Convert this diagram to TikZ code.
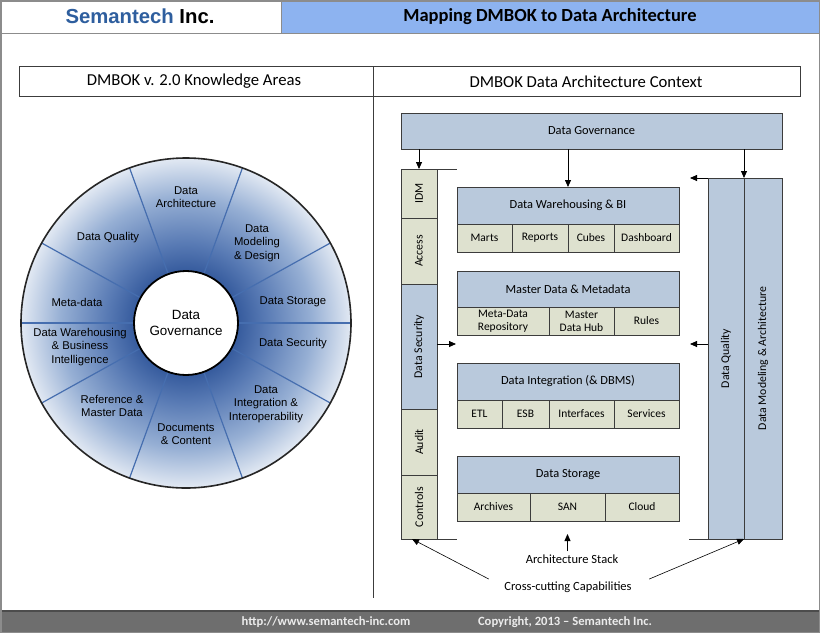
\documentclass[tikz,border=0pt]{standalone}
\usepackage{fontspec}
\usepackage{graphicx}
\setmainfont{Carlito}
\newfontfamily\arialf{Liberation Sans}
\usetikzlibrary{arrows.meta}
\definecolor{hdrblue}{RGB}{141,179,240}
\definecolor{semblue}{RGB}{46,94,158}
\definecolor{boxblue}{RGB}{185,201,220}
\definecolor{boxbeige}{RGB}{222,225,207}
\definecolor{spokec}{RGB}{70,110,175}
\definecolor{ringdark}{RGB}{55,92,158}
\definecolor{ringdm}{RGB}{88,122,180}
\definecolor{ringmid}{RGB}{150,175,212}
\definecolor{ringlight}{RGB}{226,233,243}
\definecolor{footgray}{RGB}{110,110,110}
\definecolor{framegray}{RGB}{140,140,140}
\definecolor{edgec}{RGB}{60,60,60}
\pgfdeclareradialshading{ringshade}{\pgfpoint{0bp}{0bp}}{color(0bp)=(ringdark); color(8bp)=(ringdark); color(12bp)=(ringdm); color(19bp)=(ringmid); color(25bp)=(ringlight); color(50bp)=(ringlight)}
\begin{document}
\begin{tikzpicture}[x=1pt,y=-1pt,
  hbox/.style={draw=edgec, fill=boxblue, line width=0.8pt, inner sep=1pt, outer sep=0pt, anchor=north west, font=\fontsize{12.4}{14}\selectfont},
  cell/.style={draw=edgec, fill=boxbeige, line width=0.8pt, inner sep=1pt, outer sep=0pt, anchor=north west, align=center, font=\fontsize{11.5}{13}\selectfont},
  vcell/.style={draw=edgec, fill=boxbeige, line width=0.8pt, inner sep=0pt, outer sep=0pt, anchor=north west, minimum width=36pt, font=\fontsize{11.8}{13}\selectfont},
  vblue/.style={vcell, fill=boxblue},
  arr/.style={-{Triangle[length=7pt,width=6pt]}, line width=0.8pt, draw=black},
  wl/.style={font=\arialf\fontsize{11.3}{13.3}\selectfont, align=center, text=black},
  plain/.style={font=\fontsize{12.5}{14}\selectfont}
]
\useasboundingbox (0,0) rectangle (820,633);
\fill[white] (0,0) rectangle (820,633);
% header
\fill[hdrblue] (281,0) rectangle (820,33);
\draw[framegray, line width=1pt] (281,0) -- (281,33) (0,33) -- (820,33);
\node[font=\arialf\bfseries\fontsize{20.3}{22}\selectfont] (brand) at (140,16.5) {\textcolor{semblue}{Semantech} Inc.};
\node[font=\bfseries\fontsize{18.5}{20}\selectfont] (title) at (550,16.5) {Mapping DMBOK to Data Architecture};
% table header
\draw[edgec, line width=0.8pt] (19,66) rectangle (800,96);
\draw[edgec, line width=0.8pt] (373,66) -- (373,598);
\node[font=\fontsize{16.7}{18}\selectfont] (thl) at (194,81.5) {DMBOK v. 2.0 Knowledge Areas};
\node[font=\fontsize{16.7}{18}\selectfont] (thr) at (586,81.5) {DMBOK Data Architecture Context};
% wheel
\shade[shading=ringshade] (186,323) circle (165);
\foreach \a in {0,29,70,110,151,180,-29,-70,-110,-151}
  \draw[spokec, line width=1.2pt] (186,323) ++(\a:52) -- ++(\a:113);
\draw[black!85, line width=1.6pt] (186,323) circle (165);
\node[circle, draw=black, fill=white, line width=1.8pt, minimum size=104pt, inner sep=0pt, align=center, font=\arialf\fontsize{13.4}{16.7}\selectfont] (gov) at (186,323) {Data\\Governance};
\node[wl] (ka1) at (186,197) {Data\\Architecture};
\node[wl] (ka2) at (257,243) {Data\\Modeling\\\& Design};
\node[wl] (ka3) at (293,302) {Data Storage};
\node[wl] (ka4) at (293,344) {Data Security};
\node[wl] (ka5) at (266,404) {Data\\Integration \&\\Interoperability};
\node[wl] (ka6) at (186,434) {Documents\\\& Content};
\node[wl] (ka7) at (112,406) {Reference \&\\Master Data};
\node[wl] (ka8) at (80,347) {Data Warehousing\\\& Business\\Intelligence};
\node[wl] (ka9) at (77,302) {Meta-data};
\node[wl] (ka10) at (108,238) {Data Quality};
% right side
\node[hbox, minimum width=381pt, minimum height=36pt] (dg) at (401,113) {Data Governance};
% left column
\node[vcell, minimum height=49pt] (idm) at (401,169) {\rotatebox{90}{IDM}};
\node[vcell, minimum height=66pt] (access) at (idm.south west) {\rotatebox{90}{Access}};
\node[vblue, minimum height=125pt] (dsec) at (access.south west) {\rotatebox{90}{Data Security}};
\node[vcell, minimum height=66pt] (audit) at (dsec.south west) {\rotatebox{90}{Audit}};
\node[vcell, minimum height=64pt] (controls) at (audit.south west) {\rotatebox{90}{Controls}};
% right columns
\node[vblue, minimum height=361pt] (dq) at (708,178) {\rotatebox{90}{Data Quality}};
\node[vblue, minimum height=361pt, minimum width=38pt] (dma) at (dq.north east) {\rotatebox{90}{Data Modeling \& Architecture}};
% stack
\node[hbox, minimum width=222pt, minimum height=37pt] (dw) at (457,187) {Data Warehousing \& BI};
\node[cell, minimum width=55pt, minimum height=28pt] (marts) at (dw.south west) {Marts};
\node[cell, minimum width=56pt, minimum height=28pt] (reports) at (marts.north east) {Reports};
\node[cell, minimum width=46pt, minimum height=28pt] (cubes) at (reports.north east) {Cubes};
\node[cell, minimum width=65pt, minimum height=28pt] (dash) at (cubes.north east) {Dashboard};
\node[hbox, minimum width=222pt, minimum height=36pt] (md) at (457,271) {Master Data \& Metadata};
\node[cell, minimum width=92pt, minimum height=28pt] (mdr) at (md.south west) {Meta-Data\\Repository};
\node[cell, minimum width=65pt, minimum height=28pt] (mdh) at (mdr.north east) {Master\\Data Hub};
\node[cell, minimum width=65pt, minimum height=28pt] (rules) at (mdh.north east) {Rules};
\node[hbox, minimum width=222pt, minimum height=37pt] (di) at (457,363) {Data Integration (\& DBMS)};
\node[cell, minimum width=45pt, minimum height=28pt] (etl) at (di.south west) {ETL};
\node[cell, minimum width=47pt, minimum height=28pt] (esb) at (etl.north east) {ESB};
\node[cell, minimum width=65pt, minimum height=28pt] (intf) at (esb.north east) {Interfaces};
\node[cell, minimum width=65pt, minimum height=28pt] (serv) at (intf.north east) {Services};
\node[hbox, minimum width=222pt, minimum height=37pt] (ds) at (457,456) {Data Storage};
\node[cell, minimum width=73pt, minimum height=28pt] (arch) at (ds.south west) {Archives};
\node[cell, minimum width=75pt, minimum height=28pt] (san) at (arch.north east) {SAN};
\node[cell, minimum width=74pt, minimum height=28pt] (cloud) at (san.north east) {Cloud};
% connectors
\draw[arr] (dg.south -| idm.north) -- (idm.north);
\draw[arr] (dg.south -| dw.north) -- (dw.north);
\draw[arr] (dg.south -| dq.north east) -- (dq.north east);
\draw[edgec, line width=0.8pt] (idm.north west) -- (idm.north west -| dw.west);
\draw[edgec, line width=0.8pt] (controls.south west) -- (controls.south west -| dw.west);
\draw[edgec, line width=0.8pt] (dq.south west) -- ++(-19,0);
\coordinate (rtop) at ([xshift=-18pt]dq.north west);
\draw[arr] (dq.north west) -- (rtop);
\coordinate (lmid) at (456,344);
\coordinate (rmid) at (690,344);
\draw[arr] (dsec.east |- lmid) -- (lmid);
\draw[arr] (dq.west |- rmid) -- (rmid);
\node[plain] (astack) at (572,559) {Architecture Stack};
\draw[arr] (astack.north -| san.south) -- ([yshift=-13pt]san.south);
\node[plain] (cc) at (568,587) {Cross-cutting Capabilities};
\draw[arr, line width=0.6pt] ([xshift=-12pt,yshift=-1pt]cc.north west) -- ([xshift=-7pt]controls.south);
\draw[arr, line width=0.6pt] ([xshift=14pt,yshift=-1pt]cc.north east) -- (dq.south east);
% footer
\fill[footgray] (0,611) rectangle (820,633);
\draw[black!70, line width=1.5pt] (0,611) -- (820,611);
\node[font=\bfseries\fontsize{12.6}{14}\selectfont, text=white!92!black] (url) at (326,622) {http://www.semantech-inc.com};
\node[font=\bfseries\fontsize{12.6}{14}\selectfont, text=white!92!black] (copy) at (565,622) {Copyright, 2013 -- Semantech Inc.};
% frame
\draw[framegray, line width=1.5pt] (0.75,0.75) rectangle (819.25,632.25);
\end{tikzpicture}
\end{document}
